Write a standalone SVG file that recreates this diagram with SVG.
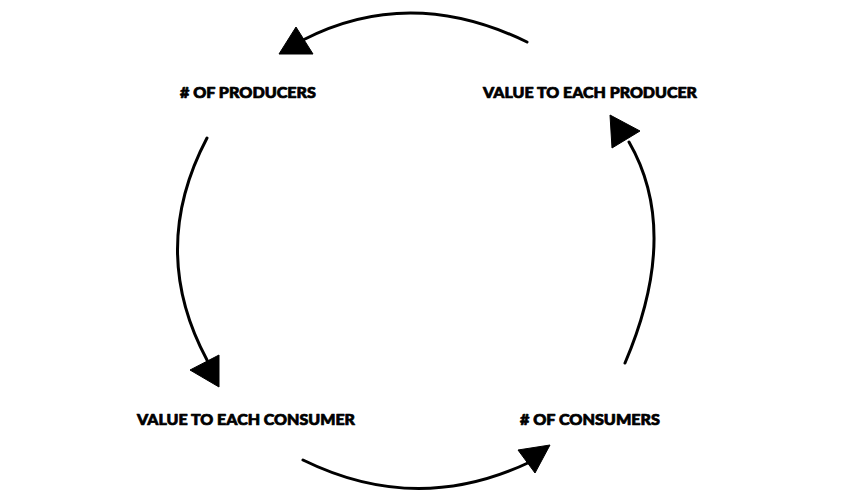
<svg xmlns="http://www.w3.org/2000/svg" width="845" height="500" viewBox="0 0 845 500">
<style>
.lbl{font-family:Lato,"DejaVu Sans","Liberation Sans",sans-serif;font-weight:900;font-size:14.5px;fill:#000;stroke:#000;stroke-width:0.7;stroke-linejoin:round}
.arc{fill:none;stroke:#000;stroke-width:3;stroke-linecap:round}
.head{fill:#000;stroke:#000;stroke-width:1;stroke-linejoin:round}
</style>
<rect width="845" height="500" fill="#fff"/>
<g id="connectors">
<path class="arc" d="M527,42 Q410,-15 303,40"/>
<polygon class="head" points="296,27 279,54 313,54"/>
<path class="arc" d="M207,138 Q148,250 207,360"/>
<polygon class="head" points="190,370 219,355 219,387"/>
<path class="arc" d="M303,460 Q417,516 530,462"/>
<polygon class="head" points="518,450 550,445 535,473"/>
<path class="arc" d="M625,363 Q681,232 629,142"/>
<polygon class="head" points="610,115 640,131 612,148"/>
</g>
<g id="node-producers"><text class="lbl" x="180" y="97.5" textLength="136" lengthAdjust="spacingAndGlyphs"># OF PRODUCERS</text></g>
<g id="node-value-producer"><text class="lbl" x="483" y="98" textLength="214" lengthAdjust="spacingAndGlyphs">VALUE TO EACH PRODUCER</text></g>
<g id="node-value-consumer"><text class="lbl" x="137" y="425" textLength="218" lengthAdjust="spacingAndGlyphs">VALUE TO EACH CONSUMER</text></g>
<g id="node-consumers"><text class="lbl" x="520" y="425" textLength="140" lengthAdjust="spacingAndGlyphs"># OF CONSUMERS</text></g>
</svg>
